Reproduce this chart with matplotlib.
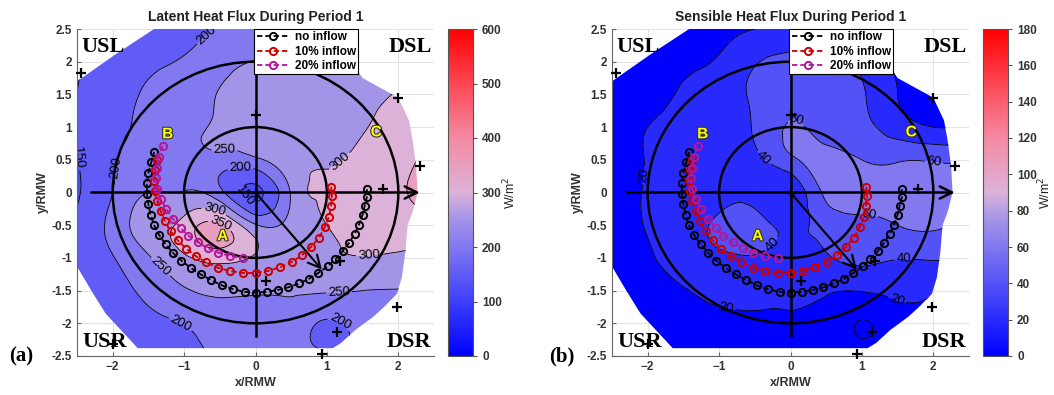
import numpy as np
import matplotlib
matplotlib.use("Agg")
import matplotlib.pyplot as plt
import matplotlib.tri as mtri
from matplotlib.colors import LinearSegmentedColormap, Normalize
from matplotlib.patches import Circle, Polygon
import matplotlib.patheffects as pe

plt.rcParams['font.family'] = ['Liberation Sans', 'DejaVu Sans']

# ---------------- data ----------------
grid_x = [-2.5, -2.0, -1.5, -1.0, -0.5, 0.0, 0.5, 1.0, 1.5, 2.0, 2.5]
grid_y = [2.5, 2.0, 1.5, 1.0, 0.5, 0.0, -0.5, -1.0, -1.5, -2.0, -2.5]

# latent heat flux (W/m^2), rows = grid_y, cols = grid_x
lh_values = [
    [140, 160, 180, 190, 203, 222, 240, 250, 260, 270, 280],
    [145, 170, 190, 205, 232, 252, 258, 265, 275, 290, 300],
    [150, 180, 207, 230, 252, 268, 275, 282, 290, 302, 315],
    [150, 185, 213, 235, 255, 262, 272, 285, 297, 318, 345],
    [148, 195, 222, 238, 232, 240, 285, 295, 315, 335, 370],
    [145, 200, 250, 252, 215, 140, 255, 305, 325, 345, 370],
    [160, 215, 280, 318, 358, 255, 268, 300, 315, 330, 335],
    [170, 198, 245, 292, 318, 295, 275, 290, 298, 292, 285],
    [165, 185, 212, 245, 258, 255, 255, 255, 250, 248, 245],
    [160, 172, 187, 202, 222, 228, 225, 195, 215, 220, 220],
    [155, 165, 175, 190, 205, 215, 215, 205, 210, 215, 215],
]

# sensible heat flux (W/m^2)
sh_values = [
    [10, 12, 14, 16, 20, 26, 27, 24, 16, 12, 10],
    [10, 13, 17, 22, 38, 45, 45, 36, 18, 14, 10],
    [8, 14, 22, 30, 44, 55, 48, 42, 20, 14, 10],
    [10, 20, 26, 32, 42, 62, 50, 45, 30, 20, 16],
    [8, 21, 27, 31, 36, 55, 68, 60, 58, 58, 55],
    [8, 22, 28, 30, 32, 26, 65, 68, 68, 65, 60],
    [10, 21, 30, 45, 48, 35, 48, 55, 60, 62, 55],
    [12, 18, 28, 35, 38, 32, 38, 44, 41, 42, 40],
    [12, 15, 19, 24, 26, 26, 22, 21, 24, 22, 16],
    [10, 12, 14, 16, 17, 16, 14, -1, 12, 14, 14],
    [10, 10, 12, 14, 14, 14, 12, 10, 10, 12, 12],
]

domain_x = [-1.42, -0.2, 0.9, 1.25, 1.5, 1.75, 2.0, 2.15, 2.2, 2.25, 2.27, 2.2,
            2.13, 2.1, 2.05, 1.98, 1.8, 1.65, 1.4, 1.2, 1.08, -1.65, -2.1, -2.3,
            -2.5, -2.5, -1.95]
domain_y = [2.5, 2.5, 2.5, 2.15, 1.75, 1.6, 1.45, 1.1, 0.8, 0.4, 0.0, -0.3,
            -0.5, -0.9, -1.3, -1.55, -1.75, -1.9, -2.1, -2.3, -2.38, -2.38, -1.85,
            -1.5, -1.13, 1.7, 2.12]

no_inflow_x = [-1.42, -1.46, -1.50, -1.52, -1.52, -1.50, -1.47, -1.42, -1.35, -1.26,
               -1.16, -1.04, -0.91, -0.77, -0.62, -0.47, -0.31, -0.15, 0.00, 0.16,
               0.31, 0.46, 0.61, 0.75, 0.88, 1.01, 1.12, 1.22, 1.31, 1.39,
               1.45, 1.50, 1.53, 1.56, 1.56]
no_inflow_y = [0.62, 0.46, 0.30, 0.14, -0.02, -0.18, -0.34, -0.50, -0.65, -0.79,
               -0.92, -1.04, -1.15, -1.25, -1.34, -1.42, -1.48, -1.52, -1.53, -1.52,
               -1.49, -1.45, -1.39, -1.32, -1.23, -1.13, -1.02, -0.90, -0.77, -0.63,
               -0.49, -0.34, -0.20, -0.07, 0.05]

inflow10_x = [-1.38, -1.41, -1.42, -1.41, -1.38, -1.33, -1.27, -1.19, -1.09, -0.97,
              -0.84, -0.69, -0.53, -0.36, -0.18, 0.00, 0.18, 0.35, 0.51, 0.65,
              0.78, 0.89, 0.97, 1.03, 1.06, 1.07, 1.06]
inflow10_y = [0.50, 0.34, 0.18, 0.02, -0.13, -0.28, -0.44, -0.59, -0.73, -0.86,
              -0.97, -1.07, -1.15, -1.20, -1.23, -1.23, -1.20, -1.14, -1.06, -0.96,
              -0.83, -0.69, -0.53, -0.37, -0.20, -0.05, 0.09]

inflow20_x = [-1.30, -1.35, -1.38, -1.39, -1.38, -1.33, -1.25, -1.16, -1.05, -0.94,
              -0.81, -0.67, -0.52, -0.36, -0.18]
inflow20_y = [0.71, 0.55, 0.38, 0.22, 0.06, -0.10, -0.25, -0.40, -0.54, -0.66,
              -0.76, -0.85, -0.92, -0.97, -1.00]

sonde_x = [-2.45, 0.0, 2.0, 2.31, 1.79, 0.15, 1.19, 1.98, 1.14, 0.93, -2.0, 0.0]
sonde_y = [1.82, 1.19, 1.44, 0.40, 0.06, -1.35, -1.04, -1.75, -2.13, -2.47, -2.31, 0.0]

point_names = ['A', 'B', 'C']
point_x = [-0.46, -1.23, 1.69]
point_y = [-0.67, 0.89, 0.92]

lh_levels = [150, 200, 250, 300, 350]
sh_levels = [0, 20, 40, 60]
lh_ticks = [0, 100, 200, 300, 400, 500, 600]
sh_ticks = [0, 20, 40, 60, 80, 100, 120, 140, 160, 180]

# ---------------- style ----------------
cmap = LinearSegmentedColormap.from_list('bpr', [
    (0.0, (0.0, 0.0, 1.0)),
    (1 / 6, (0.24, 0.25, 0.98)),
    (2 / 6, (0.51, 0.47, 0.94)),
    (2.5 / 6, (0.64, 0.58, 0.91)),
    (3 / 6, (0.86, 0.70, 0.85)),
    (4 / 6, (0.96, 0.54, 0.64)),
    (5 / 6, (0.99, 0.28, 0.33)),
    (1.0, (1.0, 0.0, 0.0)),
])

fig = plt.figure(figsize=(10.54, 3.95), dpi=100)
W, H = 1054.0, 395.0


def draw_panel(ax_left, cax_left, Z, levels, vmax, ticks, title, manual_pos, tag, tag_x):
    ax = fig.add_axes([ax_left / W, 39 / H, 357 / W, 327 / H])
    cax = fig.add_axes([cax_left / W, 39 / H, 25 / W, 327 / H])
    ax.set_xlim(-2.5, 2.5)
    ax.set_ylim(-2.5, 2.5)
    ax.set_xticks([-2, -1, 0, 1, 2])
    ax.set_yticks(np.arange(-2.5, 2.51, 0.5))
    ax.set_yticklabels(['-2.5', '-2', '-1.5', '-1', '-0.5', '0', '0.5', '1', '1.5', '2', '2.5'])
    ax.grid(True, color='#e3e3e3', lw=0.8, zorder=0)
    ax.set_axisbelow(True)
    for s in ['top', 'right']:
        ax.spines[s].set_visible(False)
    for s in ['left', 'bottom']:
        ax.spines[s].set_color('#666666')
        ax.spines[s].set_linewidth(0.8)
    ax.tick_params(direction='in', length=3, width=0.8, colors='#666666',
                   labelcolor='#333333', labelsize=8.5)
    for t in ax.get_xticklabels() + ax.get_yticklabels():
        t.set_fontweight('bold')
    ax.set_xlabel('x/RMW', fontsize=9, fontweight='bold', color='#333333', labelpad=3)
    ax.set_ylabel('y/RMW', fontsize=9, fontweight='bold', color='#333333', labelpad=2)
    ax.set_title(title, fontsize=10, fontweight='bold', color='#222222', pad=6)

    norm = Normalize(0, vmax)
    X, Y = np.meshgrid(grid_x, grid_y)
    tri = mtri.Triangulation(X.ravel(), Y.ravel())
    refiner = mtri.UniformTriRefiner(tri)
    tri_f, z_f = refiner.refine_field(np.asarray(Z, float).ravel(), subdiv=4)

    lo = min(-1000, z_f.min() - 1)
    hi = max(10000, z_f.max() + 1)
    fill_levels = [lo] + list(levels) + [hi]
    base = [max(levels[0] - (levels[1] - levels[0]) * 0.6, 0)] + list(levels)
    colors = [cmap(norm(v)) for v in base]
    poly = Polygon(np.column_stack([domain_x, domain_y]), closed=True,
                   transform=ax.transData)
    cf = ax.tricontourf(tri_f, z_f, levels=fill_levels, colors=colors, zorder=1)
    cf.set_clip_path(poly)
    cs = ax.tricontour(tri_f, z_f, levels=levels, colors='k', linewidths=0.6,
                       negative_linestyles='solid', zorder=2)
    cs.set_clip_path(poly)
    labels = ax.clabel(cs, fmt='%d', fontsize=9.5, inline=True, inline_spacing=2,
                       manual=manual_pos)
    for t in labels:
        t.set_zorder(2.5)

    # rings and axes arrows
    for r in (1, 2):
        ax.add_patch(Circle((0, 0), r, fill=False, ec='k', lw=1.8, zorder=3))
    ax.plot([0, 0], [-2.2, 2.3], color='k', lw=1.8, zorder=3)
    ax.annotate('', xy=(2.3, 0), xytext=(-2.3, 0),
                arrowprops=dict(arrowstyle='->', lw=1.8, color='k',
                                mutation_scale=22, shrinkA=0, shrinkB=0), zorder=3)
    ax.annotate('', xy=(0.93, -1.18), xytext=(0, 0),
                arrowprops=dict(arrowstyle='->', lw=1.5, color='k',
                                mutation_scale=22, shrinkA=0, shrinkB=0), zorder=3)

    ax.plot(sonde_x, sonde_y, '+', color='k', ms=6.5, mew=1.6, zorder=3.5, clip_on=False)

    tkw = dict(ms=5.2, mfc='none', mew=1.4, lw=1.3, dashes=(3, 1.6))
    ax.plot(no_inflow_x, no_inflow_y, '--o', color='k', zorder=4, label='no inflow', **tkw)
    ax.plot(inflow10_x, inflow10_y, '--o', color='#cc0000', zorder=4.1,
            label='10% inflow', **tkw)
    ax.plot(inflow20_x, inflow20_y, '--o', color='#b4169b', zorder=4.2,
            label='20% inflow', **tkw)

    for n, x, y in zip(point_names, point_x, point_y):
        ax.text(x, y, n, color='#ffff00', fontsize=11, fontweight='bold',
                ha='center', va='center', zorder=5,
                path_effects=[pe.withStroke(linewidth=1.6, foreground='#333333')])

    qkw = dict(family='Liberation Serif', fontweight='bold', fontsize=16, zorder=5)
    ax.text(-2.44, 2.15, 'USL', ha='left', va='baseline', **qkw)
    ax.text(2.47, 2.15, 'DSL', ha='right', va='baseline', **qkw)
    ax.text(-2.42, -2.36, 'USR', ha='left', va='baseline', **qkw)
    ax.text(2.46, -2.36, 'DSR', ha='right', va='baseline', **qkw)

    leg = ax.legend(loc='upper left', bbox_to_anchor=(0.497, 1.0),
                    prop={'weight': 'bold', 'size': 8.5}, frameon=True, fancybox=False,
                    framealpha=1, edgecolor='k', borderpad=0.2, labelspacing=0.2,
                    handlelength=2.8, handletextpad=0.4, borderaxespad=0)
    leg.get_frame().set_linewidth(0.8)
    leg.set_zorder(6)

    sm = plt.cm.ScalarMappable(norm=norm, cmap=cmap)
    cb = fig.colorbar(sm, cax=cax, ticks=ticks)
    cb.outline.set_edgecolor('#555555')
    cb.outline.set_linewidth(0.8)
    cax.tick_params(labelsize=8.5, colors='#555555', labelcolor='#333333',
                    length=3, width=0.8)
    for t in cax.get_yticklabels():
        t.set_fontweight('bold')
    fig.text((cax_left + 62) / W, 1 - 193 / H, 'W/m$^2$', rotation=90, fontsize=9,
             ha='center', va='center', color='#222222')
    fig.text(tag_x / W, 1 - 361 / H, tag, family='Liberation Serif',
             fontweight='bold', fontsize=15, ha='left', va='baseline')
    return ax


lh_manual = [(-0.6, 2.3), (-0.44, 0.88), (-0.21, 0.33), (-0.1, 0.0), (-2.43, 0.54),
             (-1.91, 0.37), (1.03, 0.68), (-0.58, -0.29), (-1.37, -1.18),
             (-0.55, -0.6), (-1.09, -2.1), (1.17, -1.54), (1.59, -0.96), (1.2, -1.95)]
sh_manual = [(-2.12, 0.27), (-0.9, -1.77), (1.47, -1.71), (-0.36, 0.55), (0.17, 1.32),
             (1.99, 0.32), (1.59, -1.05), (-0.18, -0.87), (1.12, -0.21)]

draw_panel(77, 448, lh_values, lh_levels, 600, lh_ticks,
           'Latent Heat Flux During Period 1', lh_manual, '(a)', 9)
draw_panel(612, 983, sh_values, sh_levels, 180, sh_ticks,
           'Sensible Heat Flux During Period 1', sh_manual, '(b)', 549)

fig.savefig('out.png', dpi=100)
